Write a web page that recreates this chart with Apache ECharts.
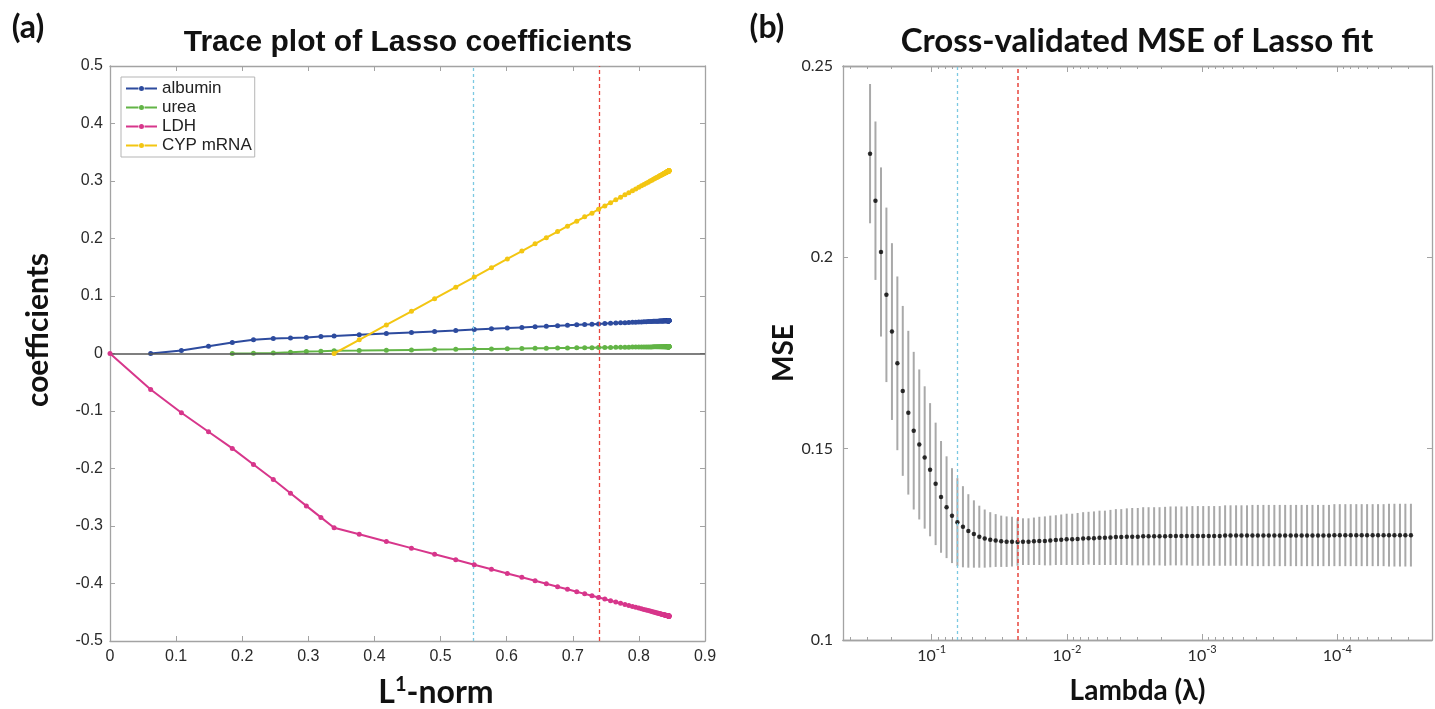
<!DOCTYPE html>
<html><head><meta charset="utf-8">
<script src="https://cdn.jsdelivr.net/npm/echarts@6/dist/echarts.min.js"></script>
<style>html,body{margin:0;padding:0;background:#fff}#c{width:1435px;height:709px}</style>
</head><body><div id="c"></div>
<script>
// ---------------- data ----------------
const seriesNames = ['albumin', 'urea', 'LDH', 'CYP mRNA'];

// L1-norm of the coefficient vector at each of the 100 lambdas
const l1Norm = [
 0, 0.0615, 0.108, 0.149, 0.185, 0.217, 0.247, 0.273, 0.297, 0.319,
 0.339, 0.377, 0.418, 0.456, 0.491, 0.523, 0.551, 0.577, 0.601, 0.623,
 0.643, 0.660, 0.677, 0.692, 0.706, 0.718, 0.729, 0.739, 0.7485, 0.7572,
 0.7651, 0.7723, 0.7789, 0.7848, 0.7903, 0.7952, 0.7998, 0.8039, 0.8076, 0.8110,
 0.8141, 0.8170, 0.8196, 0.8219, 0.8241, 0.8260, 0.8278, 0.8294, 0.8309, 0.8322,
 0.8335, 0.8346, 0.8356, 0.8365, 0.8374, 0.8381, 0.8388, 0.8395, 0.8401, 0.8406,
 0.8411, 0.8415, 0.8419, 0.8423, 0.8426, 0.8429, 0.8432, 0.8434, 0.8437, 0.8439,
 0.8441, 0.8442, 0.8444, 0.8445, 0.8446, 0.8447, 0.8448, 0.8449, 0.8449, 0.8450,
 0.8450, 0.8451, 0.8451, 0.8451, 0.8452, 0.8452, 0.8452, 0.8452, 0.8453, 0.8453,
 0.8453, 0.8453, 0.8453, 0.8454, 0.8454, 0.8454, 0.8454, 0.8454, 0.8454, 0.8455
];

const albumin = [
 null, 0, 0.0052, 0.0128, 0.0190, 0.0240, 0.0260, 0.0270, 0.0280, 0.0296,
 0.0304, 0.0324, 0.0346, 0.0366, 0.0384, 0.0401, 0.0416, 0.0430, 0.0442, 0.0454,
 0.0465, 0.0473, 0.0482, 0.0490, 0.0498, 0.0504, 0.0509, 0.0515, 0.0520, 0.0525,
 0.0529, 0.0533, 0.0536, 0.0539, 0.0542, 0.0545, 0.0547, 0.0549, 0.0551, 0.0553,
 0.0555, 0.0556, 0.0558, 0.0559, 0.0560, 0.0561, 0.0562, 0.0563, 0.0564, 0.0564,
 0.0565, 0.0566, 0.0566, 0.0567, 0.0567, 0.0568, 0.0568, 0.0568, 0.0569, 0.0569,
 0.0569, 0.0569, 0.0570, 0.0570, 0.0570, 0.0570, 0.0570, 0.0570, 0.0570, 0.0570,
 0.0571, 0.0571, 0.0571, 0.0571, 0.0571, 0.0571, 0.0571, 0.0571, 0.0571, 0.0571,
 0.0571, 0.0571, 0.0571, 0.0571, 0.0571, 0.0571, 0.0571, 0.0571, 0.0571, 0.0571,
 0.0571, 0.0571, 0.0571, 0.0571, 0.0571, 0.0571, 0.0571, 0.0571, 0.0571, 0.0571
];

const urea = [
 null, null, null, null, 0, 0.0004, 0.0010, 0.0020, 0.0035, 0.0040,
 0.0046, 0.0051, 0.0057, 0.0063, 0.0068, 0.0072, 0.0077, 0.0080, 0.0084, 0.0087,
 0.0090, 0.0092, 0.0095, 0.0097, 0.0099, 0.0101, 0.0102, 0.0104, 0.0105, 0.0106,
 0.0107, 0.0108, 0.0109, 0.0110, 0.0111, 0.0112, 0.0112, 0.0113, 0.0113, 0.0114,
 0.0114, 0.0115, 0.0115, 0.0116, 0.0116, 0.0116, 0.0116, 0.0117, 0.0117, 0.0117,
 0.0117, 0.0117, 0.0118, 0.0118, 0.0118, 0.0118, 0.0118, 0.0118, 0.0118, 0.0118,
 0.0118, 0.0118, 0.0118, 0.0118, 0.0119, 0.0119, 0.0119, 0.0119, 0.0119, 0.0119,
 0.0119, 0.0119, 0.0119, 0.0119, 0.0119, 0.0119, 0.0119, 0.0119, 0.0119, 0.0119,
 0.0119, 0.0119, 0.0119, 0.0119, 0.0119, 0.0119, 0.0119, 0.0119, 0.0119, 0.0119,
 0.0119, 0.0119, 0.0119, 0.0119, 0.0119, 0.0119, 0.0119, 0.0119, 0.0119, 0.0119
];

const ldh = [
 0, -0.0626, -0.103, -0.136, -0.165, -0.193, -0.219, -0.243, -0.265, -0.285,
 -0.303, -0.3145, -0.327, -0.3385, -0.3491, -0.3588, -0.3673, -0.3752, -0.3825, -0.3892,
 -0.3952, -0.4004, -0.4055, -0.4101, -0.4143, -0.4180, -0.4213, -0.4244, -0.4271, -0.4299,
 -0.4323, -0.4345, -0.4365, -0.4383, -0.4399, -0.4414, -0.4428, -0.4441, -0.4452, -0.4462,
 -0.4471, -0.4480, -0.4488, -0.4495, -0.4502, -0.4508, -0.4513, -0.4518, -0.4522, -0.4526,
 -0.4530, -0.4534, -0.4537, -0.4539, -0.4542, -0.4544, -0.4546, -0.4549, -0.4550, -0.4552,
 -0.4553, -0.4555, -0.4556, -0.4557, -0.4558, -0.4559, -0.4560, -0.4560, -0.4561, -0.4562,
 -0.4562, -0.4563, -0.4563, -0.4564, -0.4564, -0.4564, -0.4565, -0.4565, -0.4565, -0.4565,
 -0.4565, -0.4566, -0.4566, -0.4566, -0.4566, -0.4566, -0.4566, -0.4566, -0.4567, -0.4567,
 -0.4567, -0.4567, -0.4567, -0.4567, -0.4567, -0.4567, -0.4567, -0.4567, -0.4567, -0.4568
];

const cypMrna = [
 null, null, null, null, null, null, null, null, null, null,
 0, 0.0238, 0.0496, 0.0734, 0.0953, 0.1154, 0.1330, 0.1493, 0.1644, 0.1782,
 0.1907, 0.2014, 0.2120, 0.2214, 0.2302, 0.2377, 0.2440, 0.2509, 0.2566, 0.2623,
 0.2673, 0.2718, 0.2759, 0.2797, 0.2831, 0.2862, 0.2891, 0.2916, 0.2940, 0.2961,
 0.2980, 0.2998, 0.3015, 0.3029, 0.3043, 0.3055, 0.3066, 0.3076, 0.3086, 0.3094,
 0.3102, 0.3109, 0.3115, 0.3121, 0.3126, 0.3131, 0.3135, 0.3140, 0.3143, 0.3147,
 0.3150, 0.3152, 0.3155, 0.3157, 0.3159, 0.3161, 0.3163, 0.3164, 0.3166, 0.3167,
 0.3169, 0.3169, 0.3170, 0.3171, 0.3172, 0.3172, 0.3173, 0.3173, 0.3174, 0.3174,
 0.3174, 0.3175, 0.3175, 0.3175, 0.3175, 0.3176, 0.3176, 0.3176, 0.3176, 0.3176,
 0.3177, 0.3177, 0.3177, 0.3177, 0.3177, 0.3177, 0.3177, 0.3177, 0.3177, 0.3177
];

// log10 of lambda for each of the 100 fits
const log10Lambda = [
 -0.544, -0.584, -0.625, -0.665, -0.706, -0.746, -0.786, -0.827, -0.867, -0.908,
 -0.948, -0.988, -1.029, -1.069, -1.110, -1.150, -1.190, -1.231, -1.271, -1.312,
 -1.352, -1.392, -1.433, -1.473, -1.514, -1.554, -1.594, -1.635, -1.675, -1.716,
 -1.756, -1.796, -1.837, -1.877, -1.918, -1.958, -1.998, -2.039, -2.079, -2.120,
 -2.160, -2.200, -2.241, -2.281, -2.322, -2.362, -2.402, -2.443, -2.483, -2.524,
 -2.564, -2.604, -2.645, -2.685, -2.726, -2.766, -2.806, -2.847, -2.887, -2.928,
 -2.968, -3.008, -3.049, -3.089, -3.130, -3.170, -3.210, -3.251, -3.291, -3.332,
 -3.372, -3.412, -3.453, -3.493, -3.534, -3.574, -3.614, -3.655, -3.695, -3.736,
 -3.776, -3.816, -3.857, -3.897, -3.938, -3.978, -4.018, -4.059, -4.099, -4.140,
 -4.180, -4.220, -4.261, -4.301, -4.342, -4.382, -4.422, -4.463, -4.503, -4.544
];

const mse = [
 0.2271, 0.2148, 0.2014, 0.1902, 0.1806, 0.1723, 0.1651, 0.1594, 0.1547, 0.1511,
 0.1477, 0.1445, 0.1408, 0.1374, 0.1347, 0.1325, 0.1308, 0.1296, 0.1285, 0.1277,
 0.1270, 0.1265, 0.1262, 0.1260, 0.1258, 0.1257, 0.1257, 0.1256, 0.1257, 0.1257,
 0.1258, 0.1259, 0.1259, 0.1260, 0.1261, 0.1262, 0.1263, 0.1263, 0.1264, 0.1265,
 0.1266, 0.1266, 0.1267, 0.1267, 0.1268, 0.1269, 0.1269, 0.1270, 0.1270, 0.1270,
 0.1271, 0.1271, 0.1271, 0.1271, 0.1271, 0.1272, 0.1272, 0.1272, 0.1272, 0.1272,
 0.1272, 0.1272, 0.1272, 0.1272, 0.1272, 0.1273, 0.1273, 0.1273, 0.1273, 0.1273,
 0.1273, 0.1273, 0.1273, 0.1273, 0.1273, 0.1273, 0.1273, 0.1273, 0.1273, 0.1273,
 0.1273, 0.1273, 0.1273, 0.1273, 0.1273, 0.1274, 0.1274, 0.1274, 0.1274, 0.1274,
 0.1274, 0.1274, 0.1274, 0.1274, 0.1274, 0.1274, 0.1274, 0.1274, 0.1274, 0.1274
];

// standard error (half length of each error bar)
const mseSE = [
 0.0182, 0.0207, 0.0221, 0.0228, 0.0231, 0.0227, 0.0222, 0.0214, 0.0206, 0.0196,
 0.0186, 0.0174, 0.0160, 0.0146, 0.0133, 0.0124, 0.0115, 0.0106, 0.0096, 0.0088,
 0.0081, 0.0076, 0.0072, 0.0069, 0.0067, 0.0066, 0.0065, 0.0062, 0.0061, 0.0061,
 0.0062, 0.0063, 0.0064, 0.0065, 0.0065, 0.0066, 0.0067, 0.0067, 0.0068, 0.0069,
 0.0069, 0.0070, 0.0071, 0.0071, 0.0072, 0.0073, 0.0073, 0.0074, 0.0075, 0.0075,
 0.0076, 0.0076, 0.0076, 0.0076, 0.0077, 0.0077, 0.0077, 0.0077, 0.0077, 0.0078,
 0.0078, 0.0078, 0.0078, 0.0078, 0.0078, 0.0079, 0.0079, 0.0079, 0.0079, 0.0079,
 0.0080, 0.0080, 0.0080, 0.0080, 0.0080, 0.0080, 0.0080, 0.0080, 0.0080, 0.0080,
 0.0080, 0.0080, 0.0080, 0.0080, 0.0080, 0.0081, 0.0081, 0.0081, 0.0081, 0.0081,
 0.0081, 0.0081, 0.0081, 0.0081, 0.0081, 0.0082, 0.0082, 0.0082, 0.0082, 0.0082
];

const oneSEIndex = 16;   // cyan dashed line
const minMSEIndex = 27;  // red dashed line

const leftXTicks = [0, 0.1, 0.2, 0.3, 0.4, 0.5, 0.6, 0.7, 0.8, 0.9];
const leftYTicks = [-0.5, -0.4, -0.3, -0.2, -0.1, 0, 0.1, 0.2, 0.3, 0.4, 0.5];
const rightYTicks = [0.1, 0.15, 0.2, 0.25];
const rightXDecades = [-1, -2, -3, -4];

// ---------------- chart ----------------
const chart = echarts.init(document.getElementById('c'), null, {renderer: 'canvas'});
const axisGrey = '#a3a3a3';
const tickText = '#2a2a2a';
const colors = ['#2d4b9e', '#62b446', '#d7368b', '#f3c612'];
const coefArrays = [albumin, urea, ldh, cypMrna];

function pairs(xs, ys) {
  const out = [];
  ys.forEach((y, i) => { if (y !== null) out.push([xs[i], y]); });
  return out;
}

// minor log ticks for the lambda axis
const rxMin = -4.70, rxMax = -0.344;
const minorLog = [];
for (let d = -5; d <= 0; d++) {
  for (let k = 2; k <= 9; k++) {
    const v = d + Math.log10(k);
    if (v > rxMin && v < rxMax) minorLog.push(v);
  }
}

const baseAxis = {
  axisLine: {show: true, onZero: false, lineStyle: {color: axisGrey, width: 1.3}},
  axisTick: {show: true, inside: true, length: 5, lineStyle: {color: axisGrey, width: 1}},
  splitLine: {show: false}
};

function leftXAxis(pos, showLabel) {
  return Object.assign({}, baseAxis, {
    type: 'value', gridIndex: 0, position: pos, min: leftXTicks[0], max: leftXTicks[leftXTicks.length - 1], interval: 0.1,
    axisLabel: {show: showLabel, margin: 8, fontFamily: 'Liberation Sans', fontSize: 16, color: tickText}
  });
}
function leftYAxis(pos, showLabel) {
  return Object.assign({}, baseAxis, {
    type: 'value', gridIndex: 0, position: pos, min: leftYTicks[0], max: leftYTicks[leftYTicks.length - 1], interval: 0.1,
    axisLabel: {show: showLabel, margin: 7, fontFamily: 'Liberation Sans', fontSize: 16, color: tickText}
  });
}
function rightXAxis(pos, major, showLabel) {
  return {
    type: 'value', gridIndex: 1, position: pos, min: rxMin, max: rxMax, inverse: true,
    axisLine: {show: true, onZero: false, lineStyle: {color: axisGrey, width: 1.3}},
    axisTick: {show: true, inside: true, length: major ? 6 : 3, customValues: major ? rightXDecades : minorLog,
      lineStyle: {color: axisGrey, width: 1}},
    splitLine: {show: false},
    axisLabel: {show: showLabel, customValues: rightXDecades, margin: 4,
      formatter: v => '{b|10}{s|' + Math.round(v) + '}',
      rich: {
        b: {fontFamily: 'Lato', fontSize: 16, color: tickText, lineHeight: 24},
        s: {fontFamily: 'Lato', fontSize: 11, color: tickText, lineHeight: 12, verticalAlign: 'top'}
      }}
  };
}
function rightYAxis(pos, showLabel) {
  return Object.assign({}, baseAxis, {
    type: 'value', gridIndex: 1, position: pos, min: rightYTicks[0], max: rightYTicks[rightYTicks.length - 1], interval: 0.05,
    axisLabel: {show: showLabel, margin: 10, fontFamily: 'Lato', fontSize: 16, color: tickText}
  });
}

const xAxes = [
  leftXAxis('bottom', true),
  leftXAxis('top', false),
  Object.assign(rightXAxis('bottom', true, true), {
    name: 'Lambda (\u03bb)', nameLocation: 'middle', nameGap: 37,
    nameTextStyle: {fontFamily: 'Lato', fontWeight: 'bold', fontSize: 28, color: '#111'}
  }),
  rightXAxis('bottom', false, false),
  rightXAxis('top', true, false),
  rightXAxis('top', false, false)
];
const yAxes = [
  leftYAxis('left', true),
  leftYAxis('right', false),
  Object.assign(rightYAxis('left', true), {
    name: 'MSE', nameLocation: 'middle', nameGap: 36, nameRotate: 90,
    nameTextStyle: {fontFamily: 'Lato', fontWeight: 'bold', fontSize: 28, color: '#111'}
  }),
  rightYAxis('right', false)
];

const series = [];
// reference lines, left panel
series.push({
  type: 'line', xAxisIndex: 0, yAxisIndex: 0, data: [[0, 0]], showSymbol: false, silent: true, z: 1,
  lineStyle: {opacity: 0},
  markLine: {symbol: ['none', 'none'], silent: true, animation: false, label: {show: false},
    data: [
      {yAxis: 0, lineStyle: {color: '#555', width: 1.5, type: 'solid'}},
      {xAxis: l1Norm[oneSEIndex], lineStyle: {color: '#7cc9e2', width: 1.3, type: [3, 3]}},
      {xAxis: l1Norm[minMSEIndex], lineStyle: {color: '#e8463e', width: 1.3, type: [4, 3]}}
    ]}
});
seriesNames.forEach((name, k) => {
  series.push({
    type: 'line', name, xAxisIndex: 0, yAxisIndex: 0, data: pairs(l1Norm, coefArrays[k]),
    symbol: 'circle', symbolSize: 5, showSymbol: true, showAllSymbol: true,
    itemStyle: {color: colors[k]}, lineStyle: {width: 2, color: colors[k]}, z: 3 + k
  });
});
// right panel error bars
series.push({
  type: 'custom', xAxisIndex: 2, yAxisIndex: 2, z: 2, silent: true,
  data: log10Lambda.map((x, i) => [x, mse[i] - mseSE[i], mse[i] + mseSE[i]]),
  encode: {x: 0, y: [1, 2]},
  renderItem: (params, api) => {
    const p1 = api.coord([api.value(0), api.value(1)]);
    const p2 = api.coord([api.value(0), api.value(2)]);
    return {type: 'line', shape: {x1: p1[0], y1: p1[1], x2: p2[0], y2: p2[1]},
      style: {stroke: '#a9a9a9', lineWidth: 2}};
  }
});
series.push({
  type: 'scatter', xAxisIndex: 2, yAxisIndex: 2, z: 4, silent: true,
  data: log10Lambda.map((x, i) => [x, mse[i]]),
  symbolSize: 4.5, itemStyle: {color: '#000'}
});
series.push({
  type: 'line', xAxisIndex: 2, yAxisIndex: 2, data: [[log10Lambda[0], mse[0]]], showSymbol: false, silent: true, z: 5,
  lineStyle: {opacity: 0},
  markLine: {symbol: ['none', 'none'], silent: true, animation: false, label: {show: false},
    data: [
      {xAxis: log10Lambda[oneSEIndex], lineStyle: {color: '#7cc9e2', width: 1.3, type: [3, 3]}},
      {xAxis: log10Lambda[minMSEIndex], lineStyle: {color: '#e8463e', width: 1.5, type: [4, 3]}}
    ]}
});

const legendIcon = 'path://M0,1.5 L12.5,1.5 L12.5,3.5 L0,3.5 Z M18.5,1.5 L31,1.5 L31,3.5 L18.5,3.5 Z M13,2.5 A2.5,2.5 0 1 1 18,2.5 A2.5,2.5 0 1 1 13,2.5 Z';

const option = {
  animation: false,
  backgroundColor: '#fff',
  grid: [
    {left: 110, top: 66, width: 595, height: 575, outerBoundsMode: 'none', containLabel: false},
    {left: 843, top: 66, width: 589, height: 574, outerBoundsMode: 'none', containLabel: false}
  ],
  legend: {
    data: seriesNames.map(n => ({name: n, icon: legendIcon})),
    orient: 'vertical', left: 121, top: 77,
    itemWidth: 31, itemHeight: 5, itemGap: 2,
    padding: [3, 3, 3, 5],
    borderColor: '#b5b5b5', borderWidth: 1, backgroundColor: '#fff',
    textStyle: {fontFamily: 'Liberation Sans', fontSize: 17, color: '#222', lineHeight: 16}
  },
  graphic: [
    {type: 'text', x: 28, y: 28, style: {text: '(a)', font: 'bold 32px Lato', fill: '#111', align: 'center', verticalAlign: 'middle'}},
    {type: 'text', x: 408, y: 43, style: {text: 'Trace plot of Lasso coefficients', font: 'bold 30px "Liberation Sans"', fill: '#111', align: 'center', verticalAlign: 'middle'}},
    {type: 'text', x: 767, y: 28, style: {text: '(b)', font: 'bold 32px Lato', fill: '#111', align: 'center', verticalAlign: 'middle'}},
    {type: 'text', x: 1137, y: 41, style: {text: 'Cross-validated MSE of Lasso fit', font: 'bold 33px Lato', fill: '#111', align: 'center', verticalAlign: 'middle'}},
    {type: 'text', x: 38, y: 330, rotation: Math.PI / 2, style: {text: 'coefficients', font: 'bold 30px Lato', fill: '#111', align: 'center', verticalAlign: 'middle'}},
    {type: 'text', x: 436, y: 693, style: {text: '{a|L}{s|1}{a|-norm}', align: 'center', verticalAlign: 'middle',
      rich: {
        a: {fontFamily: 'Lato', fontWeight: 'bold', fontSize: 32, fill: '#111', lineHeight: 36},
        s: {fontFamily: 'Lato', fontWeight: 'bold', fontSize: 20, fill: '#111', lineHeight: 20, verticalAlign: 'top'}
      }}}
  ],
  xAxis: xAxes,
  yAxis: yAxes,
  series
};
chart.setOption(option);
</script>
</body></html>
